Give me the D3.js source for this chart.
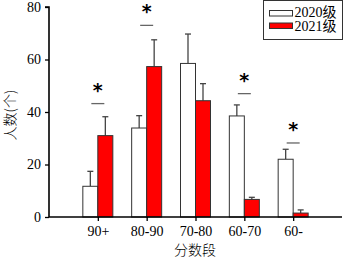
<!DOCTYPE html>
<html>
<head>
<meta charset="utf-8">
<script src="https://cdn.jsdelivr.net/npm/d3@7"></script>
<style>
  body { margin: 0; background: #fff; }
  svg text { font-family: "Liberation Serif", "Times New Roman", serif; }
  .cjk { font-family: "Noto Sans CJK SC", sans-serif; }
</style>
</head>
<body>
<svg id="chart" width="346" height="258"></svg>
<script>
const categories = ["90+", "80-90", "70-80", "60-70", "60-"];
const series = ["2020级", "2021级"];
const values2020 = [11.7, 33.9, 58.5, 38.5, 22];
const errors2020 = [17.4, 38.6, 69.7, 42.7, 25.8];
const values2021 = [31, 57.3, 44.3, 6.7, 1.5];
const errors2021 = [38.2, 67.5, 50.8, 7.5, 2.7];
// significance marks: category and level of the dash
const sigCats = ["90+", "80-90", "60-70", "60-"];
const sigLevels = [43.2, 73, 47, 28.2];
const yTicks = [0, 20, 40, 60, 80];

const svg = d3.select("#chart");
const plot = { left: 49, right: 342, top: 7, bottom: 217 };

const x = d3.scalePoint().domain(["", ...categories, " "]).range([plot.left, plot.right]);
const y = d3.scaleLinear().domain([0, 80]).range([plot.bottom, plot.top]);
const barW = 15;
const colors = ["#ffffff", "#ff0000"];

const groups = [
  { vals: values2020, errs: errors2020, off: -barW, color: colors[0] },
  { vals: values2021, errs: errors2021, off: 0, color: colors[1] }
];

groups.forEach((g) => {
  const data = categories.map((c, i) => ({ c, v: g.vals[i], e: g.errs[i] }));
  // error bars
  svg.append("g").selectAll("line.err")
    .data(data).enter().append("line")
    .attr("x1", (d) => x(d.c) + g.off + barW / 2)
    .attr("x2", (d) => x(d.c) + g.off + barW / 2)
    .attr("y1", (d) => y(d.v))
    .attr("y2", (d) => y(d.e))
    .style("stroke", "#444").style("stroke-width", 1.3);
  svg.append("g").selectAll("line.cap")
    .data(data).enter().append("line")
    .attr("x1", (d) => x(d.c) + g.off + barW / 2 - 3)
    .attr("x2", (d) => x(d.c) + g.off + barW / 2 + 3)
    .attr("y1", (d) => y(d.e))
    .attr("y2", (d) => y(d.e))
    .style("stroke", "#444").style("stroke-width", 1.3);
  svg.append("g").selectAll("rect")
    .data(data).enter().append("rect")
    .attr("x", (d) => x(d.c) + g.off)
    .attr("y", (d) => y(d.v))
    .attr("width", barW)
    .attr("height", (d) => y(0) - y(d.v))
    .style("fill", g.color)
    .style("stroke", "#333").style("stroke-width", 1);
});

// significance dashes and stars
sigCats.forEach((c, i) => {
  svg.append("line")
    .attr("x1", x(c) - 6.5).attr("x2", x(c) + 6.5)
    .attr("y1", y(sigLevels[i])).attr("y2", y(sigLevels[i]))
    .style("stroke", "#666").style("stroke-width", 1.3);
  svg.append("text")
    .attr("x", x(c)).attr("y", y(sigLevels[i]) - 7)
    .attr("text-anchor", "middle")
    .style("font-family", "DejaVu Sans, sans-serif")
    .style("font-size", "19px").style("font-weight", "bold")
    .text("*");
});

// axes
const yAxis = svg.append("g")
  .attr("transform", `translate(${plot.left},0)`)
  .call(d3.axisLeft(y).tickValues(yTicks).tickSize(4).tickPadding(4));
const xAxis = svg.append("g")
  .attr("transform", `translate(0,${plot.bottom})`)
  .call(d3.axisBottom(x).tickValues(categories).tickSize(4).tickPadding(5));
[yAxis, xAxis].forEach((a) => {
  a.select(".domain").style("stroke", "#000").style("stroke-width", 1.6);
  a.selectAll(".tick line").style("stroke", "#000").style("stroke-width", 1.3);
  a.selectAll(".tick text").style("font-size", "14px").style("fill", "#000")
    .style("font-family", "Liberation Serif, serif");
});
yAxis.select(".domain").attr("d", `M-4,${plot.top}H0V${plot.bottom}`);
xAxis.select(".domain").attr("d", `M${plot.left},0H${plot.right}`);

// axis titles
svg.append("text").attr("class", "cjk")
  .attr("transform", `translate(10,115) rotate(-90)`)
  .attr("text-anchor", "middle")
  .attr("dy", "0.35em")
  .style("font-size", "14px")
  .style("font-weight", "300")
  .text("人数(个)");
svg.append("text").attr("class", "cjk")
  .attr("x", 195).attr("y", 255)
  .attr("text-anchor", "middle")
  .style("font-size", "14px")
  .style("font-weight", "300")
  .text("分数段");

// legend
const lg = svg.append("g").attr("transform", "translate(263.5,0.5)");
lg.append("rect").attr("width", 79).attr("height", 39)
  .style("fill", "#fff").style("stroke", "#333").style("stroke-width", 1);
series.forEach((s, i) => {
  lg.append("rect").attr("x", 6).attr("y", 10 + i * 12.5)
    .attr("width", 23).attr("height", 5.5)
    .style("fill", colors[i]).style("stroke", "#333").style("stroke-width", 1);
  lg.append("text").attr("x", 31).attr("y", 16 + i * 14.5)
    .style("font-size", "14px")
    .style("font-family", "Liberation Serif, Noto Sans CJK SC, serif")
    .text(s);
});
</script>
</body>
</html>
